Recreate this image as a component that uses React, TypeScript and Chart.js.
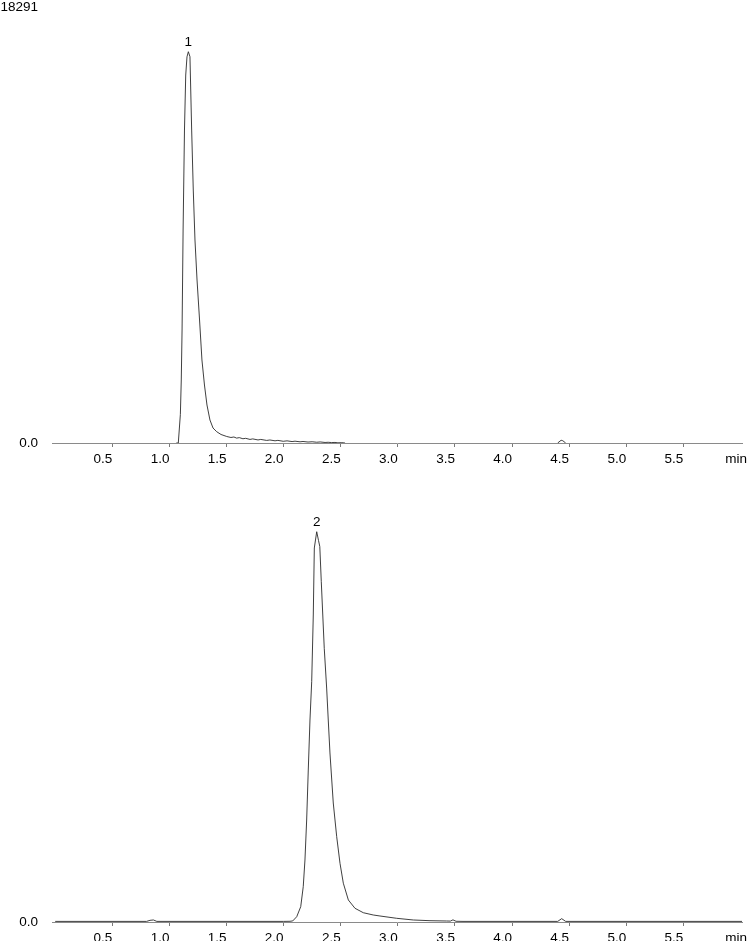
import React, { useEffect, useRef } from "react";
import { Chart, registerables, ChartConfiguration, Plugin } from "chart.js";

Chart.register(...registerables);

const FONT_FAMILY = "'Liberation Sans', Arial, sans-serif";
const FONT_SIZE = 13.5;

const X_MIN = -0.028;
const X_MAX = 6.014;
const Y_MAX = 18291;

const xTicks = [0.5, 1.0, 1.5, 2.0, 2.5, 3.0, 3.5, 4.0, 4.5, 5.0, 5.5];

// trace 1 (min / signal)
const times1 = [
  1.06, 1.078, 1.096, 1.104, 1.111, 1.12, 1.132, 1.143, 1.154, 1.166,
  1.18, 1.195, 1.209, 1.224, 1.242, 1.264, 1.285, 1.307, 1.329, 1.355,
  1.382, 1.414, 1.452, 1.502, 1.539, 1.565, 1.589, 1.612, 1.644, 1.668,
  1.706, 1.73, 1.776, 1.8, 1.852, 1.88, 1.925, 1.95, 1.997, 2.03,
  2.074, 2.1, 2.144, 2.17, 2.214, 2.25, 2.29, 2.32, 2.363, 2.39,
  2.421, 2.45, 2.476, 2.51, 2.538, 3.5, 4.4, 4.43, 4.445, 4.47,
];
const signal1 = [
  0, 0, 1200, 2643, 4740, 8935, 13130, 15437, 16200, 16415,
  16205, 13130, 10613, 8516, 6838, 5160, 3482, 2433, 1594, 965,
  629, 474, 357, 273, 231, 252, 205, 226, 178, 196,
  150, 172, 128, 150, 108, 126, 92, 110, 72, 90,
  60, 76, 50, 64, 40, 52, 32, 44, 22, 30,
  18, 24, 8, 14, 0, null, 0, 115, 95, 0,
];
const yTicks1 = [0, 18291];
const peak1 = { label: "1", time: 1.166, value: 16415 };

// trace 2
const times2 = [
  0, 0.8, 0.83, 0.86, 0.89, 2.0, 2.056, 2.08, 2.115, 2.15,
  2.172, 2.187, 2.202, 2.216, 2.231, 2.246, 2.26, 2.269, 2.29, 2.306,
  2.317, 2.33, 2.356, 2.377, 2.391, 2.406, 2.435, 2.465, 2.494, 2.523,
  2.567, 2.625, 2.698, 2.785, 2.844, 2.99, 3.136, 3.282, 3.428, 3.46,
  3.483, 3.51, 3.571, 4.4, 4.435, 4.47, 6.014,
];
const signal2 = [
  25, 25, 70, 85, 25, 25, 30, 45, 222, 642,
  1481, 2601, 4279, 6376, 8474, 10081, 12879, 15690, 16373, 16000,
  15750, 14276, 11482, 9816, 8474, 7090, 4992, 3579, 2462, 1628,
  923, 575, 390, 294, 252, 155, 84, 55, 42, 38,
  90, 30, 25, 25, 140, 25, 25,
];
const yTicks2 = [0];
const peak2 = { label: "2", time: 2.29, value: 16373 };

type Peak = { label: string; time: number; value: number };

function makeLabelPlugin(peak: Peak): Plugin<"line"> {
  return {
    id: "peakAndUnit",
    afterDraw(chart) {
      const { ctx } = chart;
      const xs = chart.scales.x;
      const ys = chart.scales.y;
      ctx.save();
      ctx.font = `${FONT_SIZE}px ${FONT_FAMILY}`;
      ctx.fillStyle = "#000";
      ctx.textBaseline = "middle";
      ctx.textAlign = "center";
      ctx.fillText(
        peak.label,
        xs.getPixelForValue(peak.time),
        ys.getPixelForValue(peak.value) - 9
      );
      ctx.textAlign = "right";
      ctx.fillText("min", chart.width - 3, xs.top + 16);
      ctx.restore();
    },
  };
}

function Chromatogram({
  times,
  signal,
  yTicks,
  peak,
  height,
  padTop,
  axisHeight,
}: {
  times: number[];
  signal: (number | null)[];
  yTicks: number[];
  peak: Peak;
  height: number;
  padTop: number;
  axisHeight: number;
}) {
  const chartRef = useRef<HTMLCanvasElement | null>(null);
  const chartInstance = useRef<Chart | null>(null);

  useEffect(() => {
    if (!chartRef.current) return;
    if (chartInstance.current) chartInstance.current.destroy();
    const ctx = chartRef.current.getContext("2d");
    if (!ctx) return;

    const points = times.map((t, i) => ({ x: t, y: signal[i] }));

    const config: ChartConfiguration<"line"> = {
      type: "line",
      data: {
        datasets: [
          {
            data: points as any,
            borderColor: "#2a2a2a",
            borderWidth: 0.9,
            pointRadius: 0,
            tension: 0,
            spanGaps: false,
          },
        ],
      },
      options: {
        responsive: false,
        animation: false,
        events: [],
        layout: { padding: { top: padTop, left: 0, right: 8, bottom: 0 } },
        plugins: {
          legend: { display: false },
          tooltip: { enabled: false },
          title: { display: false },
        },
        scales: {
          x: {
            type: "linear",
            min: X_MIN,
            max: X_MAX,
            afterBuildTicks: (axis) => {
              axis.ticks = xTicks.map((v) => ({ value: v }));
            },
            afterFit: (axis: any) => {
              axis.height = axisHeight;
              axis.paddingLeft = 0;
              axis.paddingRight = 0;
            },
            grid: {
              drawOnChartArea: false,
              drawTicks: true,
              tickLength: 4,
              color: "#7a7a7a",
              lineWidth: 1,
            },
            border: { display: true, color: "#8a8a8a", width: 1 },
            ticks: {
              align: "end",
              padding: 4,
              autoSkip: false,
              maxRotation: 0,
              color: "#000",
              font: { family: FONT_FAMILY, size: FONT_SIZE },
              callback: (v) => Number(v).toFixed(1),
            },
          },
          y: {
            type: "linear",
            min: 0,
            max: Y_MAX,
            afterBuildTicks: (axis) => {
              axis.ticks = yTicks.map((v) => ({ value: v }));
            },
            afterFit: (axis: any) => {
              axis.width = 52;
              axis.paddingTop = 0;
              axis.paddingBottom = 0;
            },
            grid: { display: false, drawTicks: false },
            border: { display: false },
            ticks: {
              padding: 14,
              autoSkip: false,
              color: "#000",
              font: { family: FONT_FAMILY, size: FONT_SIZE },
              callback: (v) => (Number(v) === 0 ? "0.0" : String(v)),
            },
          },
        },
      },
      plugins: [makeLabelPlugin(peak)],
    };

    chartInstance.current = new Chart(ctx, config);

    return () => {
      if (chartInstance.current) {
        chartInstance.current.destroy();
        chartInstance.current = null;
      }
    };
  }, [times, signal, yTicks, peak, height, padTop, axisHeight]);

  return (
    <canvas
      ref={chartRef}
      width={750}
      height={height}
      style={{ display: "block", width: 750, height }}
    />
  );
}

export default function App() {
  return (
    <div
      style={{
        position: "absolute",
        left: 0,
        top: 0,
        width: 750,
        height: 941,
        background: "#fff",
        overflow: "hidden",
      }}
    >
      <Chromatogram
        times={times1}
        signal={signal1}
        yTicks={yTicks1}
        peak={peak1}
        height={470}
        padTop={7}
        axisHeight={27}
      />
      <Chromatogram
        times={times2}
        signal={signal2}
        yTicks={yTicks2}
        peak={peak2}
        height={471}
        padTop={16}
        axisHeight={19}
      />
    </div>
  );
}
